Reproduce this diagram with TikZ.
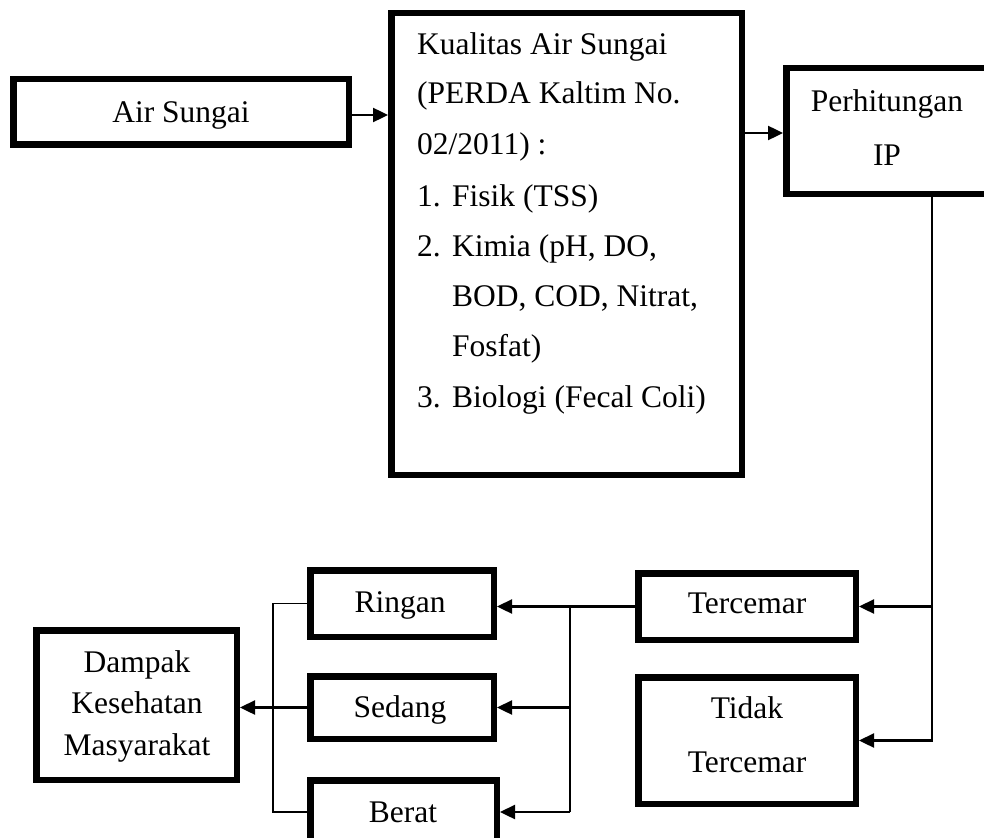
\documentclass[tikz,border=0pt]{standalone}
\usepackage{fontspec}
\setmainfont{Liberation Serif}
\usetikzlibrary{arrows.meta}
\begin{document}
\begin{tikzpicture}[x=1pt,y=-1pt]
\tikzset{
  bx/.style={draw, line width=6.5pt, inner sep=0pt, outer sep=3.25pt},
  txt/.style={font=\fontsize{31.5}{40}\selectfont, inner sep=0pt, anchor=base},
  txtl/.style={font=\fontsize{31.5}{40}\selectfont, inner sep=0pt, anchor=base west},
  arr/.style={line width=2.4pt, -{Triangle[length=15pt,width=14pt]}},
  ln/.style={line width=1.7pt},
}
\useasboundingbox (0,0) rectangle (984,837);
\clip (0,0) rectangle (984,837);
\fill[white] (0,0) rectangle (984,837);

% boxes
\node[bx, minimum width=335.5pt, minimum height=65.5pt] (air) at (181,112) {};
\node[bx, minimum width=350.5pt, minimum height=461.5pt] (kual) at (566.5,244) {};
\node[bx, minimum width=201.5pt, minimum height=125.5pt] (per) at (887,131) {};
\node[bx, minimum width=217.5pt, minimum height=66.5pt] (terc) at (747,606.5) {};
\node[bx, minimum width=217.5pt, minimum height=126.5pt] (tidak) at (747,740.5) {};
\node[bx, minimum width=183.5pt, minimum height=66.5pt] (ringan) at (402,603.5) {};
\node[bx, minimum width=183.5pt, minimum height=62.5pt] (sedang) at (402,707.5) {};
\node[bx, minimum width=186.5pt, minimum height=63.5pt] (berat) at (403.5,812) {};
\node[bx, minimum width=200.5pt, minimum height=149.5pt] (dampak) at (136.5,705) {};

% texts
\node[txt] (tair) at (181,123) {Air Sungai};
\node[txtl] (k1) at (417,55) {Kualitas Air Sungai};
\node[txtl] (k2) at (417,104) {(PERDA Kaltim No.};
\node[txtl] (k3) at (417,155) {02/2011) :};
\node[txtl] (k4) at (417,206) {\makebox[35pt][l]{1.}Fisik (TSS)};
\node[txtl] (k5) at (417,256) {\makebox[35pt][l]{2.}Kimia (pH, DO,};
\node[txtl] (k6) at (452,306) {BOD, COD, Nitrat,};
\node[txtl] (k7) at (452,356) {Fosfat)};
\node[txtl] (k8) at (417,407) {\makebox[35pt][l]{3.}Biologi (Fecal Coli)};
\node[txt] (tper1) at (887,112) {Perhitungan};
\node[txt] (tper2) at (887,165) {IP};
\node[txt] (tterc) at (747,613) {Tercemar};
\node[txt] (ttid1) at (747,718) {Tidak};
\node[txt] (ttid2) at (747,772) {Tercemar};
\node[txt] (tring) at (400,612) {Ringan};
\node[txt] (tsed) at (400,717) {Sedang};
\node[txt] (tber) at (403,822) {Berat};
\node[txt] (tdam1) at (137,672) {Dampak};
\node[txt] (tdam2) at (137,713) {Kesehatan};
\node[txt] (tdam3) at (137,755) {Masyarakat};

% helper coordinates
\coordinate (y1) at (0,115);
\coordinate (y2) at (0,133);
\coordinate (xr) at (932,0);
\coordinate (xm) at (570,0);
\coordinate (xl) at (273,0);

% connectors
\draw[arr] (air.east |- y1) -- (kual.west |- y1);
\draw[arr] (kual.east |- y2) -- (per.west |- y2);
\draw[arr] (per.south -| xr) -- (tidak.east -| xr) -- (tidak.east);
\draw[arr] (terc.east -| xr) -- (terc.east);
\draw[arr] (terc.west) -- (terc.west -| ringan.east);
\draw[ln] (terc.west -| xm) -- (berat.east -| xm);
\draw[arr] (sedang.east -| xm) -- (sedang.east);
\draw[arr] (berat.east -| xm) -- (berat.east);
\draw[ln] (ringan.west) -- (ringan.west -| xl) -- (berat.west -| xl) -- (berat.west);
\draw[arr] (sedang.west) -- (sedang.west -| dampak.east);
\end{tikzpicture}
\end{document}
